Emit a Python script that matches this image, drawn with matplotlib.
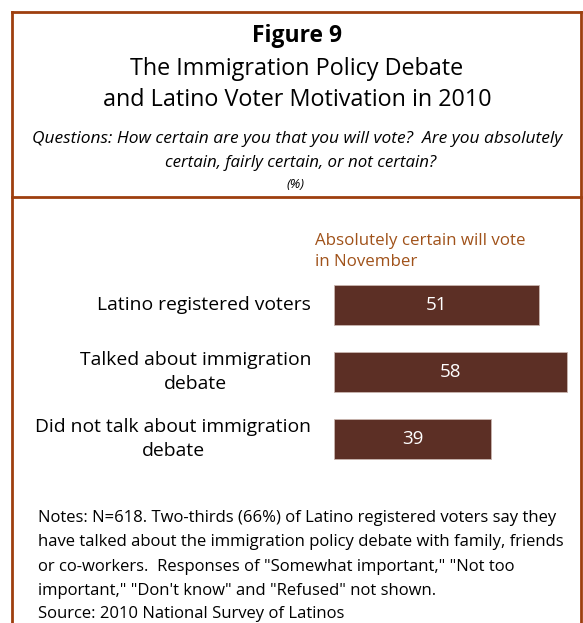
import matplotlib.pyplot as plt
from matplotlib.lines import Line2D

# data
categories = ['Latino registered voters',
              'Talked about immigration\ndebate',
              'Did not talk about immigration\ndebate']
values = [51, 58, 39]
series_label = ['Absolutely certain will vote', 'in November']

notes = ['Notes: N=618. Two-thirds (66%) of Latino registered voters say they',
         'have talked about the immigration policy debate with family, friends',
         'or co-workers.  Responses of "Somewhat important," "Not too',
         'important," "Don\'t know" and "Refused" not shown.']
source = 'Source: 2010 National Survey of Latinos'

W, H = 583, 623
plt.rcParams['font.family'] = ['Open Sans', 'DejaVu Sans']

fig = plt.figure(figsize=(W / 100, H / 100), dpi=100)
fig.patch.set_facecolor('white')

border = '#9E3F0E'
bar_color = '#5C2F25'
head_color = '#A0521A'


def px(x, y):
    return x / W, 1 - y / H


# frame lines
for xs, ys in [([12, 581], [12, 12]), ([12, 12], [12, 623]), ([581, 581], [12, 623]),
               ([12, 581], [197, 197])]:
    fig.add_artist(Line2D([x / W for x in xs], [1 - y / H for y in ys],
                          color=border, lw=2))

# title block
cx = 297
fig.text(*px(cx, 36), 'Figure 9', ha='center', va='center', fontsize=16.5, fontweight='bold')
fig.text(*px(cx, 69), 'The Immigration Policy Debate', ha='center', va='center', fontsize=16.8)
fig.text(*px(cx, 100), 'and Latino Voter Motivation in 2010', ha='center', va='center', fontsize=16.8)
fig.text(*px(cx, 139), 'Questions: How certain are you that you will vote?  Are you absolutely',
         ha='center', va='center', fontsize=12.5, style='italic')
fig.text(*px(cx + 4, 163), 'certain, fairly certain, or not certain?',
         ha='center', va='center', fontsize=12.2, style='italic')
fig.text(*px(cx - 2, 185), '(%)', ha='center', va='center', fontsize=9.5, style='italic')

# bar axes: x from 334px, 4.02 px per point
scale = 4.02
x0 = 334
xmax = 60
top, bottom = 271.5, 472.5
ax = fig.add_axes([x0 / W, 1 - bottom / H, xmax * scale / W, (bottom - top) / H])
ypos = list(range(len(values)))
ax.barh(ypos, values, height=40 / 67, color=bar_color, edgecolor='#c9b6b0', linewidth=0.6)
ax.set_xlim(0, xmax)
ax.set_ylim(len(values) - 0.5, -0.5)
ax.axis('off')

for y, v, c in zip(ypos, values, categories):
    ax.text(v / 2, y, str(v), ha='center', va='center', color='white', fontsize=13.5)
    ax.text((311 - x0) / scale, y, c, ha='right', va='center', fontsize=13.9,
            multialignment='center', linespacing=1.42, clip_on=False)

fig.text(*px(315, 241), series_label[0], ha='left', va='center', fontsize=12.2, color=head_color)
fig.text(*px(315, 262), series_label[1], ha='left', va='center', fontsize=12.2, color=head_color)

# notes
for i, line in enumerate(notes):
    fig.text(*px(38, 518 + 24.3 * i), line, ha='left', va='center', fontsize=12)
fig.text(*px(38, 614), source, ha='left', va='center', fontsize=12)

fig.savefig('out.png', dpi=100)
